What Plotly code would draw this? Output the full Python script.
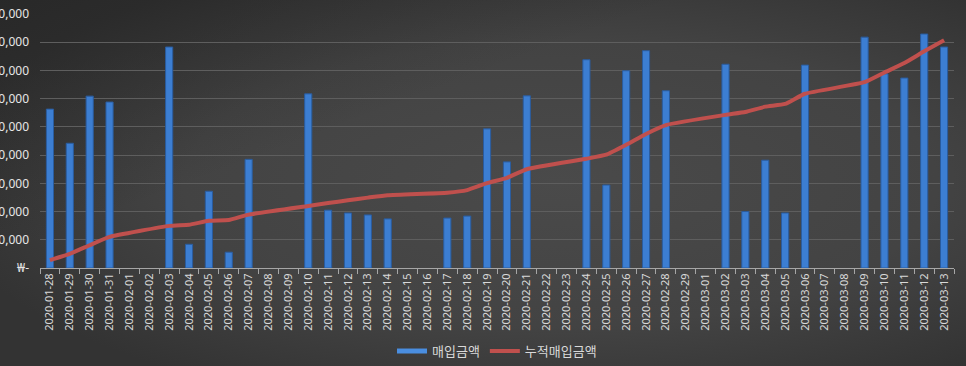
import base64
import plotly.graph_objects as go

dates = ["2020-01-28", "2020-01-29", "2020-01-30", "2020-01-31",
         "2020-02-01", "2020-02-02", "2020-02-03", "2020-02-04", "2020-02-05", "2020-02-06",
         "2020-02-07", "2020-02-08", "2020-02-09", "2020-02-10", "2020-02-11", "2020-02-12",
         "2020-02-13", "2020-02-14", "2020-02-15", "2020-02-16", "2020-02-17", "2020-02-18",
         "2020-02-19", "2020-02-20", "2020-02-21", "2020-02-22", "2020-02-23", "2020-02-24",
         "2020-02-25", "2020-02-26", "2020-02-27", "2020-02-28", "2020-02-29", "2020-03-01",
         "2020-03-02", "2020-03-03", "2020-03-04", "2020-03-05", "2020-03-06", "2020-03-07",
         "2020-03-08", "2020-03-09", "2020-03-10", "2020-03-11", "2020-03-12", "2020-03-13"]

# daily purchase amount (KRW)
purchase = [5630000, 4420000, 6090000, 5880000,
            None, None, 7830000, 840000, 2720000, 560000,
            3850000, None, None, 6170000, 2050000, 1950000,
            1880000, 1740000, None, None, 1770000, 1840000,
            4930000, 3760000, 6100000, None, None, 7380000,
            2940000, 6990000, 7700000, 6280000, None, None,
            7220000, 2000000, 3820000, 1950000, 7190000, None,
            None, 8180000, 6880000, 6730000, 8290000, 7830000]

# cumulative purchase amount (KRW)
cumulative = [5630000, 10050000, 16140000, 22020000,
              None, None, 29850000, 30690000, 33410000, 33970000,
              37820000, None, None, 43990000, 46040000, 47990000,
              49870000, 51610000, None, None, 53380000, 55220000,
              60150000, 63910000, 70010000, None, None, 77390000,
              80330000, 87320000, 95020000, 101300000, None, None,
              108520000, 110520000, 114340000, 116290000, 123480000, None,
              None, 131660000, 138540000, 145270000, 153560000, 161390000]

y_tick_vals = [0, 1000000, 2000000, 3000000, 4000000, 5000000, 6000000, 7000000, 8000000, 9000000]
y_tick_text = ["₩-", "₩1,000,000", "₩2,000,000", "₩3,000,000", "₩4,000,000",
               "₩5,000,000", "₩6,000,000", "₩7,000,000", "₩8,000,000", "₩9,000,000"]

W, H = 966, 366
ML, MR, MT, MB = 40, 12, 14, 98
PW, PH = W - ML - MR, H - MT - MB

svg = (
    '<svg xmlns="http://www.w3.org/2000/svg" width="966" height="366" viewBox="0 0 966 366" '
    'preserveAspectRatio="none">'
    '<defs><radialGradient id="g" cx="0.58" cy="0.5" r="0.65" gradientUnits="objectBoundingBox">'
    '<stop offset="0" stop-color="#4a4a4a"/><stop offset="0.6" stop-color="#434343"/>'
    '<stop offset="1" stop-color="#333333"/></radialGradient>'
    '<linearGradient id="d" x1="0" y1="0" x2="1" y2="1">'
    '<stop offset="0" stop-color="#1e1e1e" stop-opacity="0.5"/>'
    '<stop offset="0.35" stop-color="#1e1e1e" stop-opacity="0"/></linearGradient></defs>'
    '<rect width="966" height="366" fill="url(#g)"/>'
    '<rect width="966" height="366" fill="url(#d)"/></svg>'
)
src = "data:image/svg+xml;base64," + base64.b64encode(svg.encode()).decode()

BAR_COLOR = "#3c7ed2"

fig = go.Figure()
fig.add_trace(go.Bar(
    x=dates, y=purchase, name="매입금액", width=0.36, showlegend=False,
    legendgroup="buy",
    marker=dict(color=BAR_COLOR, line=dict(color="#2a5c9e", width=1)),
))
# legend-only entry so the bar series shows a wide swatch like the original
fig.add_trace(go.Scatter(
    x=[None], y=[None], name="매입금액", mode="lines", legendgroup="buy",
    line=dict(color="#4a8ee0", width=5),
))
fig.add_trace(go.Scatter(
    x=dates, y=cumulative, name="누적매입금액", yaxis="y2", mode="lines",
    connectgaps=True, line=dict(color="#c0504d", width=4, shape="spline", smoothing=0.4),
))

fig.update_layout(
    width=W, height=H,
    margin=dict(l=ML, r=MR, t=MT, b=MB, autoexpand=False),
    paper_bgcolor="#3a3a3a", plot_bgcolor="rgba(0,0,0,0)",
    font=dict(family="Noto Sans CJK KR, Noto Sans, sans-serif", color="#d9d9d9", size=11),
    showlegend=True,
    legend=dict(orientation="h", x=0.5, xanchor="center", y=-0.327, yanchor="middle",
                font=dict(size=13, color="#d9d9d9"), bgcolor="rgba(0,0,0,0)",
                itemwidth=30, traceorder="normal"),
    images=[dict(source=src, xref="paper", yref="paper", x=-ML / PW, y=1 + MT / PH,
                 sizex=W / PW, sizey=H / PH, xanchor="left", yanchor="top",
                 sizing="stretch", layer="below")],
    xaxis=dict(type="category", categoryorder="array", categoryarray=dates,
               tickangle=-90, tickson="boundaries", ticks="outside", ticklen=5,
               tickcolor="#a6a6a6", showline=True, linecolor="#a6a6a6", linewidth=1,
               showgrid=False, tickfont=dict(size=11, color="#d9d9d9", family="Noto Sans, sans-serif"),
               automargin=False, range=[-0.5, len(dates) - 0.5]),
    yaxis=dict(range=[0, 9000000], tickvals=y_tick_vals, ticktext=y_tick_text,
               showgrid=True, gridcolor="#5e5e5e", gridwidth=1, zeroline=False,
               showline=False, ticks="", ticklabelstandoff=10,
               tickfont=dict(size=12, color="#e6e6e6", family="Noto Sans, sans-serif"),
               automargin=False),
    yaxis2=dict(range=[0, 180000000], overlaying="y", side="right", visible=False,
                showgrid=False),
)

fig.write_html(
    "out.html",
    config={"displayModeBar": False},
    post_script="document.body.style.margin='0';document.body.style.background='#333333';",
)
